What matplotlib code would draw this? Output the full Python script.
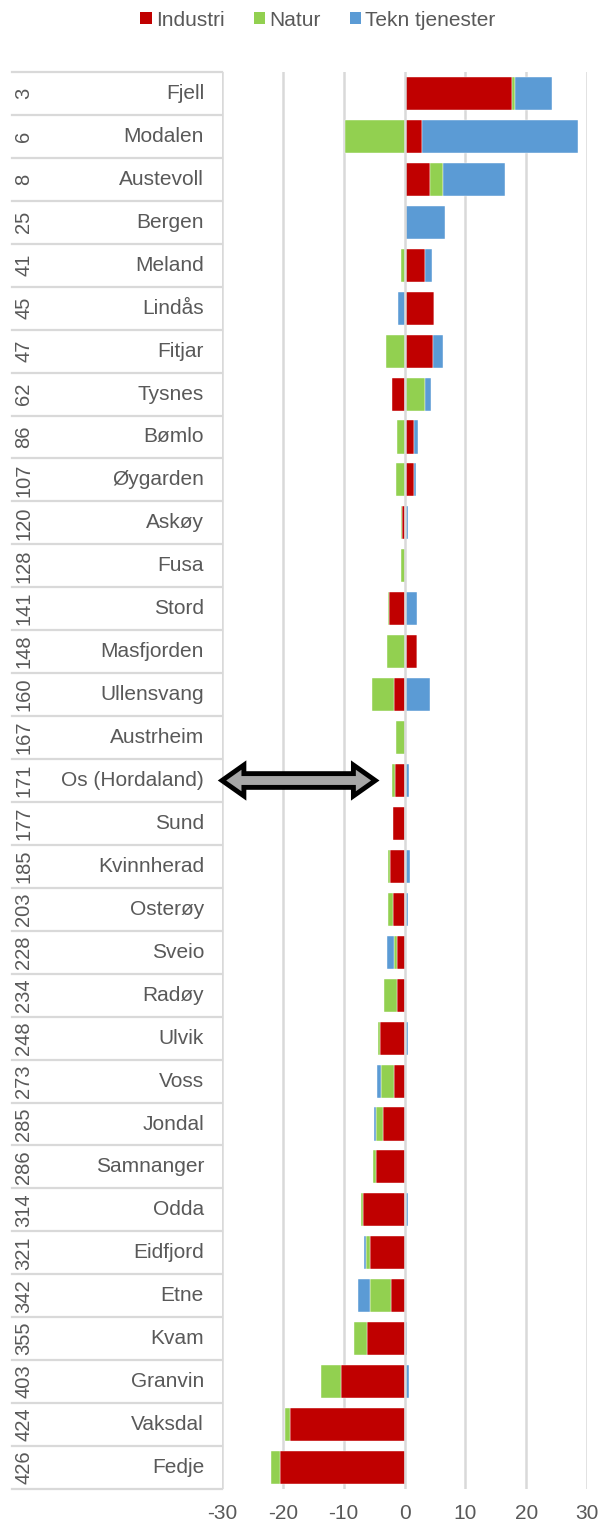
import numpy as np
import matplotlib
matplotlib.use("Agg")
import matplotlib.pyplot as plt
from matplotlib.patches import Polygon, Patch

plt.rcParams['font.family'] = ['Liberation Sans', 'DejaVu Sans']
plt.rcParams['axes.unicode_minus'] = False

# data
ranks = [3, 6, 8, 25, 41, 45, 47, 62, 86, 107, 120, 128, 141, 148, 160, 167, 171,
         177, 185, 203, 228, 234, 248, 273, 285, 286, 314, 321, 342, 355, 403, 424, 426]
names = ["Fjell", "Modalen", "Austevoll", "Bergen", "Meland", "Lindås", "Fitjar",
         "Tysnes", "Bømlo", "Øygarden", "Askøy", "Fusa", "Stord", "Masfjorden",
         "Ullensvang", "Austrheim", "Os (Hordaland)", "Sund", "Kvinnherad", "Osterøy",
         "Sveio", "Radøy", "Ulvik", "Voss", "Jondal", "Samnanger", "Odda", "Eidfjord",
         "Etne", "Kvam", "Granvin", "Vaksdal", "Fedje"]
industri = [17.7, 2.9, 4.2, 0.3, 3.4, 4.8, 4.7, -2.0, 1.6, 1.5, -0.45, 0.0, -2.5, 2.0,
            -1.7, 0.0, -1.5, -1.9, -2.4, -1.9, -1.2, -1.2, -4.0, -1.7, -3.5, -4.7,
            -6.8, -5.6, -2.2, -6.1, -10.4, -18.8, -20.5]
natur = [0.4, -9.8, 2.1, 0.0, -0.5, 0.0, -3.0, 3.4, -1.2, -1.4, -0.2, -0.6, -0.2, -2.8,
         -3.6, -1.4, -0.6, 0.0, -0.3, -0.8, -0.5, -2.1, -0.3, -2.2, -1.2, -0.4,
         -0.3, -0.8, -3.5, -2.2, -3.3, -0.8, -1.5]
tekn = [6.2, 25.6, 10.2, 6.3, 1.2, -1.1, 1.7, 0.9, 0.7, 0.4, 0.5, 0.3, 2.1, 0.0,
        4.2, 0.0, 0.8, 0.3, 0.9, 0.5, -1.2, 0.0, 0.5, -0.7, -0.3, 0.0,
        0.6, -0.3, -1.9, 0.4, 0.7, 0.0, 0.0]
series = ["Industri", "Natur", "Tekn tjenester"]
colors = ["#C00000", "#92D050", "#5B9BD5"]
xticks = [-30, -20, -10, 0, 10, 20, 30]
marked = "Os (Hordaland)"

grey = "#595959"
gridc = "#D9D9D9"

fig = plt.figure(figsize=(6, 15.24), dpi=100, facecolor='w')
ax = fig.add_axes([222/600, 35/1524, 365/600, 1417/1524])

y = np.arange(len(names))
pos = np.zeros(len(names))
neg = np.zeros(len(names))
for vals, c in zip([industri, natur, tekn], colors):
    v = np.array(vals)
    left = np.where(v >= 0, pos, neg)
    ax.barh(y, v, left=left, height=0.77, color=c, edgecolor='white',
            linewidth=0.3, zorder=2)
    pos += np.where(v > 0, v, 0)
    neg += np.where(v < 0, v, 0)

ax.set_xlim(-30, 30)
ax.set_ylim(len(names) - 0.5, -0.5)
ax.set_xticks(xticks)
ax.set_xticklabels([str(t) for t in xticks], fontsize=15, color=grey)
ax.set_yticks([])
ax.xaxis.set_tick_params(length=0, pad=11)
for s in ax.spines.values():
    s.set_visible(False)
for t in xticks:
    ax.axvline(t, color=gridc, lw=1.8, zorder=1 if t != 0 else 3)

# label table on the left
tr = ax.get_yaxis_transform()
x0 = (12 - 222) / 365
for b in np.arange(-0.5, len(names), 1.0):
    ax.plot([x0, 0], [b, b], color=gridc, lw=1.6, transform=tr, clip_on=False, zorder=1)
for i, (r, n) in enumerate(zip(ranks, names)):
    ax.text((204 - 222) / 365, i, n, transform=tr, ha='right', va='center',
            fontsize=15, color=grey)
    ax.text((24 - 222) / 365, i, str(r), transform=tr, ha='center', va='center',
            rotation=90, fontsize=14.5, color=grey)

# double arrow pointing at the marked row
yi = names.index(marked)
xa, xb = -30, -4.8
hl, hw, sw = 3.6, 0.36, 0.16
pts = [(xa, yi), (xa + hl, yi - hw), (xa + hl, yi - sw), (xb - hl, yi - sw),
       (xb - hl, yi - hw), (xb, yi), (xb - hl, yi + hw), (xb - hl, yi + sw),
       (xa + hl, yi + sw), (xa + hl, yi + hw)]
ax.add_patch(Polygon(pts, closed=True, facecolor='#A6A6A6', edgecolor='black',
                     lw=3.5, joinstyle='miter', clip_on=False, zorder=5))

handles = [Patch(facecolor=c, edgecolor='none') for c in colors]
fig.legend(handles, series, loc='center', bbox_to_anchor=(318/600, 1 - 20/1524),
           ncol=3, frameon=False, fontsize=15, labelcolor=grey,
           handlelength=0.55, handleheight=0.55, handletextpad=0.2,
           columnspacing=1.4)

fig.savefig("out.png", dpi=100, facecolor='w')
